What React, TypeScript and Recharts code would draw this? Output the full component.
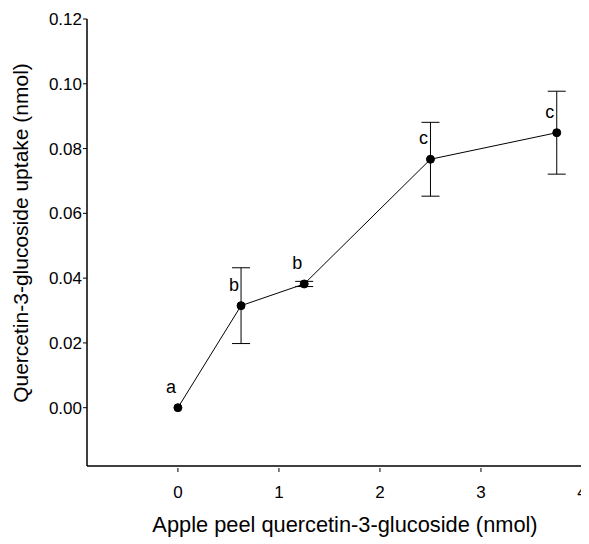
import React from "react";
import { ComposedChart, Line, XAxis, YAxis, ErrorBar, LabelList, Label } from "recharts";

const doses = [0, 0.625, 1.25, 2.5, 3.75];
const uptake = [0.0, 0.0315, 0.0382, 0.0767, 0.0849];
const errors = [0.0, 0.0117, 0.0008, 0.0114, 0.0128];
const letters = ["a", "b", "b", "c", "c"];
const xTicks = [0, 1, 2, 3, 4];
const yTicks = [0, 0.02, 0.04, 0.06, 0.08, 0.1, 0.12];

const data = doses.map((d, i) => ({ x: d, y: uptake[i], err: errors[i], letter: letters[i] }));

const FONT = "'Liberation Sans', Arial, sans-serif";

const XTick = (props: any) => {
  const { x, y, payload } = props;
  return (
    <g>
      <line x1={x} x2={x} y1={y + 2} y2={y + 6} stroke="#000" strokeWidth={1} />
      <text x={x} y={y + 32} textAnchor="middle" fontSize={17} fontFamily={FONT} fill="#000">
        {payload.value}
      </text>
    </g>
  );
};

const LetterLabel = (props: any) => {
  const { x, y, value } = props;
  return (
    <text x={x - 7} y={y - 15} textAnchor="middle" fontSize={18} fontFamily={FONT} fill="#000">
      {value}
    </text>
  );
};

export default function App() {
  return (
    <ComposedChart
      width={581}
      height={536}
      data={data}
      margin={{ top: 11, right: 7, left: 19, bottom: 28 }}
      style={{ fontFamily: FONT }}
    >
      <XAxis
        dataKey="x"
        type="number"
        domain={[-0.9, 4]}
        ticks={xTicks}
        allowDataOverflow
        height={50}
        tickSize={0}
        tickMargin={0}
        tickLine={false}
        axisLine={{ stroke: "#000", strokeWidth: 1.5 }}
        tick={<XTick />}
      >
        <Label
          content={() => (
            <text x={337} y={524} textAnchor="middle" fontSize={21.8} fontFamily={FONT} fill="#000">
              Apple peel quercetin-3-glucoside (nmol)
            </text>
          )}
        />
      </XAxis>
      <XAxis
        xAxisId="top"
        orientation="top"
        dataKey="x"
        type="number"
        domain={[-0.9, 4]}
        height={0}
        tick={false}
        tickLine={false}
        axisLine={{ stroke: "#777", strokeWidth: 1 }}
      />
      <YAxis
        type="number"
        domain={[-0.018, 0.12]}
        ticks={yTicks}
        allowDataOverflow
        width={60}
        tickSize={4}
        tickMargin={1}
        tickFormatter={(v: number) => v.toFixed(2)}
        tick={{ fontSize: 17, fill: "#000", fontFamily: FONT }}
        tickLine={{ stroke: "#000" }}
        axisLine={{ stroke: "#000", strokeWidth: 1.5 }}
      >
        <Label
          content={() => (
            <text
              x={20}
              y={225}
              transform={`rotate(-90, 20, 225)`}
              textAnchor="middle"
              fontSize={21}
              fontFamily={FONT}
              fill="#000"
            >
              Quercetin-3-glucoside uptake (nmol)
            </text>
          )}
        />
      </YAxis>
      <YAxis
        yAxisId="right"
        orientation="right"
        type="number"
        domain={[-0.018, 0.12]}
        width={0}
        tick={false}
        tickLine={false}
        axisLine={{ stroke: "#555", strokeWidth: 1 }}
      />
      <Line
        dataKey="y"
        stroke="#000"
        strokeWidth={1}
        isAnimationActive={false}
        dot={{ r: 4, fill: "#000", stroke: "#000", strokeWidth: 1 }}
        activeDot={false}
      >
        <ErrorBar dataKey="err" direction="y" width={9} stroke="#000" strokeWidth={1} />
        <LabelList dataKey="letter" content={<LetterLabel />} />
      </Line>
    </ComposedChart>
  );
}
